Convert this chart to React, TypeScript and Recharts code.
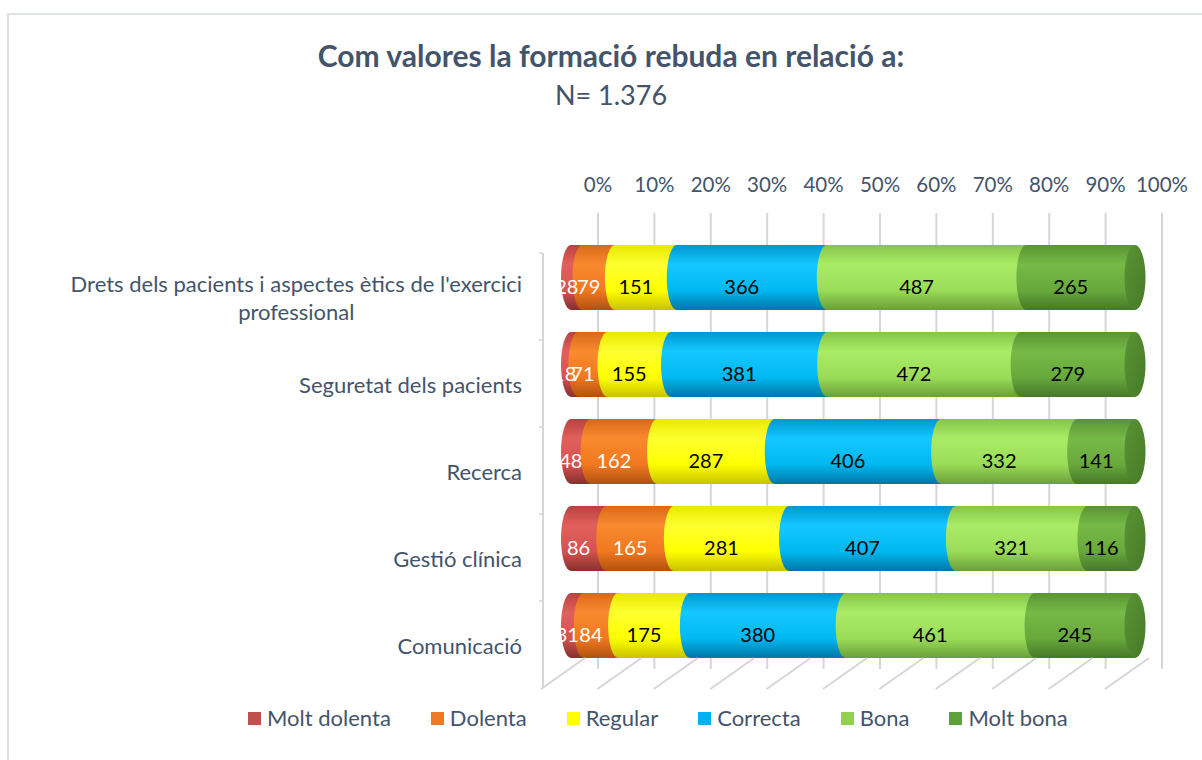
import React from 'react';
import { BarChart, Bar, XAxis, YAxis, CartesianGrid, LabelList } from 'recharts';

const CATEGORIES = [
  "Drets dels pacients i aspectes ètics de l'exercici professional",
  'Seguretat dels pacients',
  'Recerca',
  'Gestió clínica',
  'Comunicació',
];

const MOLT_DOLENTA = [28, 18, 48, 86, 31];
const DOLENTA = [79, 71, 162, 165, 84];
const REGULAR = [151, 155, 287, 281, 175];
const CORRECTA = [366, 381, 406, 407, 380];
const BONA = [487, 472, 332, 321, 461];
const MOLT_BONA = [265, 279, 141, 116, 245];

const PCT_TICKS = [0, 0.1, 0.2, 0.3, 0.4, 0.5, 0.6, 0.7, 0.8, 0.9, 1];

const SERIES = [
  { key: 'md', name: 'Molt dolenta', values: MOLT_DOLENTA, color: '#c0504d', grad: ['#b8423f', '#e2605c', '#d4524f', '#86302d'], label: '#ffffff' },
  { key: 'd', name: 'Dolenta', values: DOLENTA, color: '#f07a24', grad: ['#d8691a', '#fa8a2e', '#f07820', '#b0520f'], label: '#ffffff' },
  { key: 'r', name: 'Regular', values: REGULAR, color: '#ffff00', grad: ['#e8e800', '#ffff30', '#ffff00', '#c8c200'], label: '#000000' },
  { key: 'c', name: 'Correcta', values: CORRECTA, color: '#00b0f0', grad: ['#0096d0', '#14c8ff', '#00b8f0', '#0076a6'], label: '#000000' },
  { key: 'b', name: 'Bona', values: BONA, color: '#92d050', grad: ['#86c44a', '#aaec66', '#9adc58', '#6c9e3a'], label: '#000000' },
  { key: 'mb', name: 'Molt bona', values: MOLT_BONA, color: '#5fa03a', grad: ['#5a9432', '#76ba46', '#68a83c', '#46782a'], label: '#000000' },
];

const data = CATEGORIES.map((name, i) => {
  const row: Record<string, any> = { name };
  SERIES.forEach((s) => { row[s.key] = s.values[i]; });
  return row;
});

const TEXT = '#44546a';
const FONT = 'Lato, "Open Sans", sans-serif';
const BACK_DX = 27; // back wall shift of the 3d plot
const GRID = '#d6d6d6';
const CAT_SIZE = 22;

let ctx: CanvasRenderingContext2D | null = null;
const measure = (t: string, font: string) => {
  if (!ctx) ctx = document.createElement('canvas').getContext('2d');
  if (!ctx) return t.length * 9;
  ctx.font = font;
  return ctx.measureText(t).width;
};

const wrap = (text: string, maxW: number, font: string) => {
  const words = text.split(' ');
  const lines: string[] = [];
  let cur = '';
  words.forEach((w) => {
    const next = cur ? cur + ' ' + w : w;
    if (cur && measure(next, font) > maxW) {
      lines.push(cur);
      cur = w;
    } else cur = next;
  });
  if (cur) lines.push(cur);
  return lines;
};

const Cylinder = (props: any) => {
  const { x, y, width, height, s, last } = props;
  if (!width || !height) return null;
  const rx = 10;
  const id = `grad-${s.key}`;
  const path = `M${x + width},${y} L${x},${y} A${rx},${height / 2} 0 0 0 ${x},${y + height} L${x + width},${y + height} Z`;
  return (
    <g>
      <defs>
        <linearGradient id={id} x1="0" y1="0" x2="0" y2="1">
          <stop offset="0%" stopColor={s.grad[0]} />
          <stop offset="30%" stopColor={s.grad[1]} />
          <stop offset="70%" stopColor={s.grad[2]} />
          <stop offset="100%" stopColor={s.grad[3]} />
        </linearGradient>
        <linearGradient id="face-grad" x1="0" y1="0" x2="1" y2="1">
          <stop offset="0%" stopColor="#5a9434" />
          <stop offset="100%" stopColor="#477a29" />
        </linearGradient>
      </defs>
      <path d={path} fill={`url(#${id})`} />
      {last && <ellipse cx={x + width} cy={y + height / 2} rx={10.5} ry={height / 2} fill="url(#face-grad)" />}
    </g>
  );
};

const XTick = (props: any) => {
  const { x, payload } = props;
  const bx = x + BACK_DX;
  return (
    <g>
      <text x={bx} y={192} textAnchor="middle" fill={TEXT} fontSize={20.5} fontFamily={FONT}>
        {`${Math.round(payload.value * 100)}%`}
      </text>
      <line x1={bx - 13} y1={658} x2={bx - 57} y2={689} stroke={GRID} strokeWidth={2} />
    </g>
  );
};

const YTick = (props: any) => {
  const { x, y, payload } = props;
  const font = `${CAT_SIZE}px ${FONT}`;
  const lines = wrap(payload.value, 470, font);
  const blockW = Math.max(...lines.map((l) => measure(l, font)));
  const cx = x - 49 - blockW / 2;
  const top = y + 20 - (lines.length - 1) * 14;
  return (
    <g>
      <line x1={x - 28} y1={y - 43.5 + 19} x2={x - 28} y2={y + 43.5 + 19} stroke={GRID} strokeWidth={2} />
      <line x1={x - 32} y1={y - 43.5 + 19} x2={x - 28} y2={y - 43.5 + 19} stroke={GRID} strokeWidth={1.5} />
      {lines.map((l, i) => (
        <text key={i} x={cx} y={top + i * 28} textAnchor="middle" dominantBaseline="central" fill={TEXT} fontSize={CAT_SIZE} fontFamily={FONT}>
          {l}
        </text>
      ))}
    </g>
  );
};

const gridXs = ({ xAxis, offset }: any) =>
  PCT_TICKS.map((v) => {
    const px = xAxis && typeof xAxis.scale === 'function' ? xAxis.scale(v) : offset.left + offset.width * v;
    return px + BACK_DX;
  });

const App: React.FC = () => {
  return (
    <div style={{ position: 'absolute', left: 0, top: 0, width: 1202, height: 760, background: '#fff', overflow: 'hidden', fontFamily: FONT }}>
      <div style={{ position: 'absolute', left: 7, top: 13, width: 1220, height: 800, borderTop: '2px solid #dfe3e8', borderLeft: '2px solid #dfe3e8' }} />
      <div style={{ position: 'absolute', left: 0, top: 37, width: 1222, textAlign: 'center', fontSize: 30, lineHeight: '36px', fontWeight: 700, color: TEXT }}>
        Com valores la formació rebuda en relació a:
      </div>
      <div style={{ position: 'absolute', left: 0, top: 78, width: 1222, textAlign: 'center', fontSize: 27, lineHeight: '34px', color: TEXT }}>
        N= 1.376
      </div>

      <div style={{ position: 'absolute', left: 0, top: 0 }}>
        <BarChart
          width={1202}
          height={760}
          data={data}
          layout="vertical"
          stackOffset="expand"
          barSize={65}
          margin={{ top: 183, right: 67, bottom: 91, left: 0 }}
        >
          <CartesianGrid horizontal={false} stroke={GRID} strokeWidth={2} verticalCoordinatesGenerator={gridXs} />
          <XAxis
            type="number"
            domain={[0, 1]}
            ticks={PCT_TICKS}
            interval={0}
            orientation="top"
            height={30}
            axisLine={false}
            tickLine={false}
            tickSize={0}
            tickMargin={0}
            tick={<XTick />}
          />
          <YAxis
            type="category"
            dataKey="name"
            width={571}
            interval={0}
            axisLine={false}
            tickLine={false}
            tickSize={0}
            tickMargin={0}
            padding={{ top: 21, bottom: 0 }}
            tick={<YTick />}
          />
          {SERIES.map((s, i) => (
            <Bar
              key={s.key}
              dataKey={s.key}
              name={s.name}
              stackId="a"
              fill={s.color}
              isAnimationActive={false}
              shape={(p: any) => <Cylinder {...p} s={s} last={i === SERIES.length - 1} />}
            >
              <LabelList
                dataKey={s.key}
                content={(p: any) => {
                  const vb = p.viewBox || p;
                  if (vb.x == null) return null;
                  return (
                    <text
                      x={vb.x + vb.width / 2 - 10}
                      y={vb.y + vb.height / 2 + 8}
                      textAnchor="middle"
                      dominantBaseline="central"
                      fill={s.label}
                      fontSize={20}
                      fontFamily={FONT}
                    >
                      {p.value}
                    </text>
                  );
                }}
              />
            </Bar>
          ))}
        </BarChart>
      </div>

      <div style={{ position: 'absolute', left: 248, top: 703, display: 'flex', gap: 40, alignItems: 'center' }}>
        {SERIES.map((s) => (
          <div key={s.key} style={{ display: 'flex', alignItems: 'center', gap: 6 }}>
            <div style={{ width: 13, height: 13, background: s.color }} />
            <span style={{ fontSize: 22, color: TEXT, lineHeight: '30px' }}>{s.name}</span>
          </div>
        ))}
      </div>
    </div>
  );
};

export default App;
